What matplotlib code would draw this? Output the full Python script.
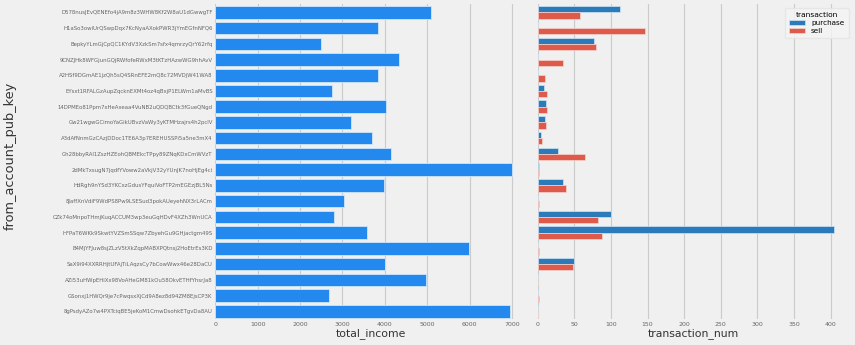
"""Income and transaction counts per sending account"""

import matplotlib.pyplot as plt
import numpy as np

account_keys = [
    "D578nusJEvQENEfo4jA9m8z3WHW8Kf2W8aU1dGwwgTF",
    "H1aSo3owiUrQSwpDqx7KcNyaAXokPWR3jYmEGfnNFQ6",
    "BepkyYLmGjCpQC1KYdV3XzkSm7sfx4qmrzyQrY62rfq",
    "9CNZJHk8WFGjunGQjRWfofeRWxM3tKTzHAzwWG9hhAvV",
    "A2HSf9DGmAE1jzQh5sQ4SRnEFE2mQ8c72MVDjW41WA8",
    "EYsxt1RFALGzAupZqcknEXMt4oz4qBxjP1ELWm1aMvBS",
    "14DPMEo81Ppm7xHeAxeaa4VuNB2uQDQBCtk3fGueQNgd",
    "Gw21wgwGCimoYaGikUBvzVaWy3yKTMHzajrs4h2pcIV",
    "A3dAfNnmGzCAzjDDoc1TE6A3p7EREHUSSPi5a5ne3mX4",
    "Gh28bbyRAl1ZszHZEohQBMEkcTPpy89ZNqKDxCmWVzT",
    "2dMkTxsugN7jqdfYVoww2aVkjV32yYUnJK7noHjEg4ci",
    "HdRgh9nYSd3YKCxzGdusYFquiVoFTP2mEGEzjBL5Ns",
    "8JaffXnVdiF9WdPS8Pw9LSESud3pokAUeyehNX3rLACm",
    "CZk74oMnpoTHmjKuqACCUM3wp3euGqHDvF4XZh3WnUCA",
    "HFPaT6WKk9SkwtYVZSmSSqw7ZbyehGu9GHjactgm49S",
    "B4MjYFJuw8sjZLzV5tXkZqpMABXPQtnsj2HoEtrEs3KD",
    "SaX9i94XXRRHjtUFAjTiLAqzsCy7bCowWwx46e28DaCU",
    "AZi53uHWpEHiXx98VoAHeGM81kOu58OkvETHfYhsrJa8",
    "GSonxj1HWQr9je7cPwqsxXjCd9A8ez8d94ZM8EjsCP3K",
    "8gPsdyAZo7w4PXTciqBE5jeKoM1CmwDsohkETgvDa8AU",
]
total_income = [5100, 3850, 2500, 4340, 3850, 2750, 4020, 3200, 3700, 4150,
                7000, 3980, 3030, 2810, 3590, 5980, 4000, 4970, 2690, 6950]
purchase_num = [112, 0, 77, 0, 0, 9, 11, 10, 5, 28,
                2, 34, 0, 100, 405, 0, 50, 0, 0, 0]
sell_num = [57, 146, 79, 35, 10, 13, 13, 11, 6, 64,
            2, 39, 2, 82, 88, 2, 48, 0, 1, 0]
income_ticks = [0, 1000, 2000, 3000, 4000, 5000, 6000, 7000]
count_ticks = [0, 50, 100, 150, 200, 250, 300, 350, 400]

BG = "#f0f0f0"
GRID = "#cbcbcb"
TICK = "#666666"

plt.rcParams["font.family"] = "DejaVu Sans"

fig = plt.figure(figsize=(8.55, 3.45), dpi=100, facecolor=BG)
ax1 = fig.add_axes([0.252, 0.075, 0.364, 0.912])
ax2 = fig.add_axes([0.629, 0.075, 0.364, 0.912])

y = np.arange(len(account_keys))

# left: total income per account
ax1.barh(y, total_income, height=0.8, color="#2389ee",
         edgecolor="#cfe6fb", linewidth=0.6, zorder=3)
ax1.set_xlim(0, max(total_income) * 1.05)
ax1.set_xticks(income_ticks)
ax1.set_yticks(y)
ax1.set_yticklabels(account_keys, fontsize=3.9)
ax1.set_xlabel("total_income", fontsize=7.8, color="#333333", labelpad=1)
ax1.set_ylabel("from_account_pub_key", fontsize=9.3, color="#333333")
ax1.yaxis.set_label_coords(-0.64, 0.52)

# right: purchase / sell counts side by side
ax2.barh(y - 0.2, purchase_num, height=0.4, color="#2b7bba",
         edgecolor="#cfe3f3", linewidth=0.5, label="purchase", zorder=3)
ax2.barh(y + 0.2, sell_num, height=0.4, color="#de5b4b",
         edgecolor="#f6d4cf", linewidth=0.5, label="sell", zorder=3)
ax2.set_xlim(0, max(purchase_num) * 1.05)
ax2.set_xticks(count_ticks)
ax2.set_yticks([])
ax2.set_xlabel("transaction_num", fontsize=7.8, color="#333333", labelpad=1)

for ax in (ax1, ax2):
    ax.set_facecolor(BG)
    ax.set_ylim(len(account_keys) - 0.5, -0.5)
    ax.grid(axis="x", color=GRID, linewidth=0.8, zorder=0)
    ax.grid(axis="y", visible=False)
    for side in ax.spines.values():
        side.set_visible(False)
    ax.tick_params(axis="both", length=0, labelcolor=TICK, pad=2)
    ax.tick_params(axis="x", labelsize=4.5)

leg = ax2.legend(title="transaction", loc="upper right", fontsize=5.2,
                 title_fontsize=5.4, frameon=True, borderpad=0.6,
                 handlelength=2.2, handleheight=0.6, labelspacing=0.25,
                 bbox_to_anchor=(1.01, 1.0))
leg.get_frame().set_facecolor("#f5f5f5")
leg.get_frame().set_edgecolor("#e4e4e4")

fig.savefig("out.png", dpi=100, facecolor=BG)
